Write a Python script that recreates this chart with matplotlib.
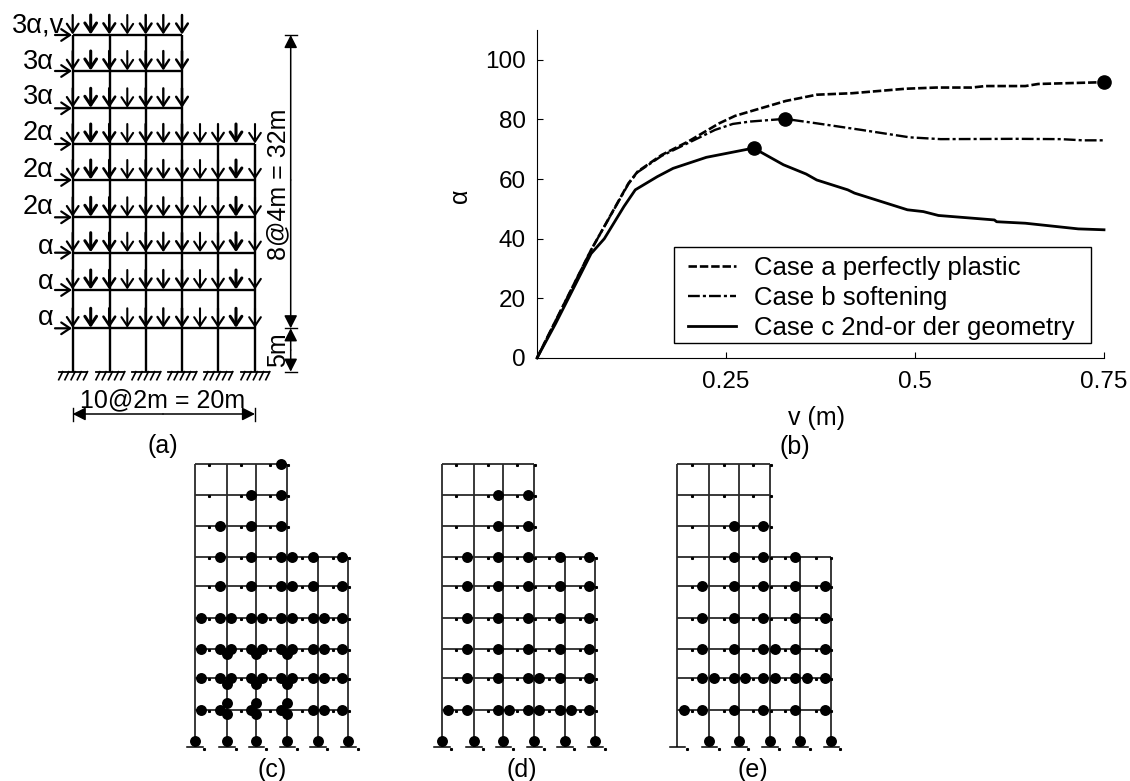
import matplotlib
matplotlib.use("Agg")
import matplotlib.pyplot as plt
from matplotlib.patches import Rectangle

plt.rcParams['font.family'] = ['Liberation Sans', 'DejaVu Sans']

# Curves of panel (b), v in m, alpha
v_a = [0, 0.0715, 0.121, 0.133, 0.165, 0.2, 0.241, 0.262, 0.282, 0.329, 0.37, 0.417, 0.4875, 0.528, 0.575, 0.593, 0.646, 0.663, 0.75]
alpha_a = [0, 36.2, 58.6, 62.5, 68.1, 72.6, 78.7, 81.2, 82.7, 86.2, 88.3, 88.8, 90.3, 90.7, 90.7, 91.2, 91.2, 91.9, 92.5]
v_b = [0, 0.0715, 0.121, 0.133, 0.165, 0.195, 0.2355, 0.259, 0.282, 0.328, 0.37, 0.429, 0.493, 0.534, 0.634, 0.693, 0.722, 0.75]
alpha_b = [0, 36.2, 58.4, 62.3, 67.8, 71.5, 76.5, 78.5, 79.3, 80.2, 78.7, 76.5, 74, 73.4, 73.5, 73.4, 73, 73]
v_c = [0, 0.0245, 0.0715, 0.089, 0.115, 0.13, 0.159, 0.18, 0.224, 0.2865, 0.326, 0.356, 0.37, 0.411, 0.42, 0.49, 0.511, 0.531, 0.605, 0.608, 0.646, 0.716, 0.75]
alpha_c = [0, 11.5, 35, 40, 50.8, 56.4, 60.8, 63.6, 67.3, 70.4, 64.8, 61.7, 59.7, 56.4, 55.3, 49.7, 49.1, 47.8, 46.3, 45.7, 45.2, 43.3, 43]
peak_v = [0.75, 0.328, 0.2865]
peak_alpha = [92.5, 80.2, 70.4]
v_ticks = [0.25, 0.5, 0.75]
v_tick_labels = ['0.25', '0.5', '0.75']
alpha_ticks = [0, 20, 40, 60, 80, 100]
legend_labels = ['Case a perfectly plastic', 'Case b softening', 'Case c 2nd-or der geometry']

# Panel (a) loads
load_labels = ['3α,v', '3α', '3α', '2α', '2α', '2α', 'α', 'α', 'α']

# Plastic hinge slots along a floor: index into hinge_offsets
hinge_offsets = [6.5, 25, 36.3, 56.3, 67.7, 86, 97.3, 118, 129.3, 147.5]
hinges_c = [[5], [3, 5], [1, 3, 5], [1, 3, 5, 6, 7, 9], [1, 3, 5, 6, 7, 9],
            [0, 1, 2, 3, 4, 5, 6, 7, 8, 9], [0, 1, 2, 3, 4, 5, 6, 7, 8, 9],
            [0, 1, 2, 3, 4, 5, 6, 7, 8, 9], [0, 1, 3, 5, 7, 8, 9]]
hinges_d = [[], [3, 5], [3, 5], [1, 3, 5, 7, 9], [1, 3, 5, 7, 9], [1, 3, 5, 7, 9],
            [1, 3, 5, 7, 9], [1, 3, 5, 6, 7, 9], [0, 1, 3, 4, 5, 6, 7, 8, 9]]
hinges_e = [[], [], [3, 5], [3, 5, 7], [1, 3, 5, 7, 9], [1, 3, 5, 7, 9],
            [1, 3, 5, 6, 7, 9], [1, 2, 3, 4, 5, 6, 7, 8, 9], [0, 1, 3, 5, 7, 9]]
# column hinges of (c): floor, offset from the beam
col_hinges_c = [(6, 5.3), (7, 6.3), (8, -7), (8, 4.5)]
supports_c = [0, 1, 2, 3, 4, 5]
supports_d = [0, 1, 2, 3, 4, 5]
supports_e = [1, 2, 3, 4, 5]

W, H = 1130, 781
fig = plt.figure(figsize=(W / 100, H / 100), dpi=100)

# Overlay in pixel coordinates for the frames
ov = fig.add_axes([0, 0, 1, 1])
ov.set_xlim(0, W)
ov.set_ylim(H, 0)
ov.axis('off')


def arrow(x0, y0, x1, y1, lw=1.6, style='->,head_length=0.45,head_width=0.3', ms=14):
    ov.annotate('', xy=(x1, y1), xytext=(x0, y0),
                arrowprops=dict(arrowstyle=style, lw=lw, color='k', fc='k', shrinkA=0, shrinkB=0,
                                mutation_scale=ms))


# Panel (a)
a_cols = [72.7, 110, 146, 182, 218, 255]
a_floors = [35, 71, 108.3, 144, 180, 217.3, 252.7, 290, 328.3]
a_base = 371.7
a_nodes = [72.7, 90.7, 109.3, 127.3, 145.7, 163.3, 182, 200, 218, 236, 255]
a_arrow_lw = [1.6, 2.2, 1.9, 1.5, 1.8, 1.7, 1.8, 1.5, 1.6, 2.2, 1.5]
a_label_y = [25, 62, 97, 133, 170, 207, 247, 282, 318]

for i, x in enumerate(a_cols):
    top = a_floors[0] if i < 4 else a_floors[3]
    ov.plot([x, x], [top, a_base], color='k', lw=1.7, solid_capstyle='butt')
    ov.plot([x - 14, x + 14], [a_base, a_base], color='k', lw=1.3)
    for k in range(5):
        hx = x - 10 + k * 6.2
        ov.plot([hx, hx - 4], [a_base, a_base + 8], color='k', lw=1.2)

for j, y in enumerate(a_floors):
    right = a_cols[3] if j < 3 else a_cols[5]
    ov.plot([a_cols[0], right], [y, y], color='k', lw=1.7, solid_capstyle='butt')
    for n, x in enumerate(a_nodes):
        if x <= right + 0.5:
            arrow(x, y - 20, x, y - 0.5, lw=a_arrow_lw[n])
    arrow(55, y, 72, y)
    if j == 0:
        ov.text(12, a_label_y[j], load_labels[j], fontsize=19.5, ha='left', va='center')
    else:
        ov.text(54, a_label_y[j], load_labels[j], fontsize=19.5, ha='right', va='center')

dim_style = '-|>,head_length=0.55,head_width=0.28'
dim_x = 290.7
for y in [a_floors[0], a_floors[8], a_base]:
    ov.plot([dim_x - 6, dim_x + 6], [y, y], color='k', lw=1)
arrow(dim_x, 180, dim_x, a_floors[0], lw=1.1, style=dim_style)
arrow(dim_x, 180, dim_x, a_floors[8], lw=1.1, style=dim_style)
arrow(dim_x, 350, dim_x, a_floors[8], lw=1.1, style=dim_style)
arrow(dim_x, 350, dim_x, a_base, lw=1.1, style=dim_style)
ov.text(278, 184, '8@4m = 32m', fontsize=18, rotation=90, ha='center', va='center')
ov.text(278, 350, '5m', fontsize=18, rotation=90, ha='center', va='center')
ov.text(163, 400, '10@2m = 20m', fontsize=18, ha='center', va='center')
for x in [a_cols[0], a_cols[5]]:
    ov.plot([x, x], [408, 421], color='k', lw=1)
arrow(163, 414, a_cols[0], 414, lw=1.1, style=dim_style)
arrow(163, 414, a_cols[5], 414, lw=1.1, style=dim_style)

# Panels (c), (d), (e)
floors = [464.3, 495, 525.7, 556.7, 586, 617.7, 648.7, 678, 709.7]
base_y = 746.7
col_offsets = [0, 32, 61.6, 92.3, 123, 153.6]
tick_offsets = [14.3, 46.3, 75.3, 93.7, 107.6, 138.7, 154]


def frame(left, hinges, supports, col_hinges=()):
    cols = [left + c for c in col_offsets]
    for i, x in enumerate(cols):
        top = floors[0] if i < 4 else floors[3]
        ov.plot([x, x], [top, base_y], color='#2a2a2a', lw=1.3, solid_capstyle='butt')
        ov.plot([x - 7.3, x + 8], [base_y, base_y], color='k', lw=1.1)
        ov.plot([x + 9.5], [base_y + 2], 's', color='k', ms=1.2)
    for j, y in enumerate(floors):
        right = cols[3] if j < 3 else cols[5]
        ov.plot([cols[0], right], [y, y], color='#2a2a2a', lw=1.3, solid_capstyle='butt')
        for t in tick_offsets:
            if left + t <= right + 2:
                ov.plot([left + t], [y + 1], 's', color='k', ms=1.2)
        ov.scatter([left + hinge_offsets[s] for s in hinges[j]], [y] * len(hinges[j]),
                   s=62, color='k', zorder=3, linewidths=0)
    for s in supports:
        ov.scatter([cols[s]], [base_y - 6], s=62, color='k', zorder=3, linewidths=0)
    for floor, dy in col_hinges:
        ov.scatter([cols[k] for k in (1, 2, 3)], [floors[floor] + dy] * 3,
                   s=62, color='k', zorder=3, linewidths=0)


frame(194.7, hinges_c, supports_c, col_hinges_c)
frame(441.7, hinges_d, supports_d)
frame(677.3, hinges_e, supports_e)

panel_names = ['(a)', '(b)', '(c)', '(d)', '(e)']
panel_x = [162.5, 795, 272, 521.7, 753]
panel_y = [446, 447, 770, 770, 770]
for name, x, y in zip(panel_names, panel_x, panel_y):
    ov.text(x, y, name, fontsize=18, ha='center', va='center')

# Panel (b)
ax = fig.add_axes([537 / W, (H - 358) / H, 567 / W, 328 / H])
ax.patch.set_alpha(0)
l1, = ax.plot(v_a, alpha_a, color='k', lw=1.9, ls=(0, (3.2, 1.1)), clip_on=False)
l2, = ax.plot(v_b, alpha_b, color='k', lw=1.7, ls=(0, (5, 1.3, 1.3, 1.3)), clip_on=False)
l3, = ax.plot(v_c, alpha_c, color='k', lw=2.0, clip_on=False)
ax.plot(peak_v, peak_alpha, 'o', color='k', ms=9.5, clip_on=False, zorder=4)
ax.set_xlim(0, 0.75)
ax.set_ylim(0, 110)
ax.set_xticks(v_ticks)
ax.set_xticklabels(v_tick_labels)
ax.set_yticks(alpha_ticks)
ax.tick_params(direction='in', length=4, width=0.8, labelsize=17.5)
ax.tick_params(axis='x', pad=9)
ax.tick_params(axis='y', pad=8)
ax.spines['top'].set_visible(False)
ax.spines['right'].set_visible(False)
ax.text(817, 418, 'v (m)', fontsize=18, ha='center', va='center', transform=ov.transData)
ax.text(460, 196, 'α', fontsize=18, rotation=90, ha='center', va='center', transform=ov.transData)

ax.add_patch(Rectangle((673.7, 246.7), 417, 96.3, transform=ov.transData, fc='white', ec='k',
                       lw=1.0, zorder=5, clip_on=False))
leg = ax.legend([l1, l2, l3], legend_labels, loc='lower left',
                bbox_to_anchor=(151 / 567, 17.7 / 328), fontsize=18.5, frameon=False,
                borderaxespad=0, borderpad=0, handlelength=1.87, handletextpad=0.7,
                labelspacing=0.24)
leg.set_zorder(6)

fig.savefig('out.png', dpi=100)
